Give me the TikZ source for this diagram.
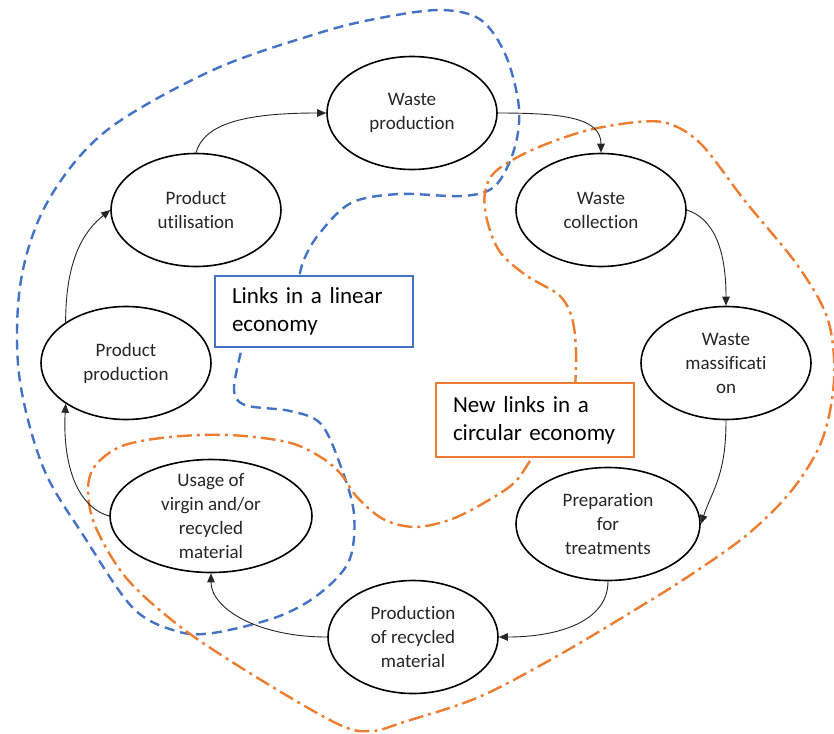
\documentclass[tikz,border=0pt]{standalone}
\usepackage{fontspec}
\setmainfont{Carlito}[RawFeature={-liga;-clig;-calt;-dlig;-rlig}]
\usetikzlibrary{shapes.geometric,arrows.meta}
\definecolor{linblue}{HTML}{4472C4}
\definecolor{circorange}{HTML}{ED7D31}
\definecolor{inktext}{HTML}{262626}

\begin{document}
\begin{tikzpicture}[x=1pt,y=-1pt,
  stage/.style={ellipse, draw=black, line width=1.6pt, fill=white,
    minimum width=170pt, minimum height=113pt, inner sep=0pt},
  stagetext/.style={align=center, font=\fontsize{19}{24}\selectfont,
    text=inktext, inner sep=0pt},
  flow/.style={draw=black!85, line width=0.9pt,
    -{Triangle[length=9pt,width=7.5pt]}},
  linearloop/.style={draw=linblue, line width=2.4pt, dash pattern=on 10pt off 6pt},
  circularloop/.style={draw=circorange, line width=2.4pt,
    dash pattern=on 15pt off 5pt on 3pt off 5pt},
  legendbox/.style={rectangle, fill=white, line width=2pt, align=left,
    font=\fontsize{23}{28}\selectfont, text=black, minimum width=198pt,
    text width=164pt, inner xsep=17pt, inner ysep=0pt},
]
\useasboundingbox (0,0) rectangle (834,733);

% linear economy loop
\draw[linearloop] plot[smooth, tension=0.55] coordinates {
  (297,290) (303,262) (319,234) (351,203) (399,194) (463,196) (495,186)
  (514,150) (519,108) (506,56) (481,20) (441,10) (380,18) (319,33)
  (213,70) (106,131) (48,201) (21,280) (19,374) (43,467) (85,538)
  (133,608) (176,631) (213,633) (277,617) (319,594) (349,561) (354,514)
  (341,467) (321,424) (290,411) (245,405) (234,388) (244,340)};

% circular economy loop
\draw[circularloop] plot[smooth, tension=0.55] coordinates {
  (575,390) (576,351) (572,318) (559,295) (527,276) (500,252) (487,220)
  (485,192) (496,171) (532,150) (585,131) (638,122) (670,124) (702,145)
  (745,201) (798,266) (828,320) (834,380) (822,440) (792,490) (748,534)
  (692,574) (638,608) (559,655) (479,697) (404,722) (372,731) (340,725)
  (266,683) (186,631) (128,580) (96,528) (88,491) (95,466) (122,446)
  (170,437) (229,435) (287,442) (319,456) (340,473) (357,497) (383,519)
  (415,527) (452,519) (489,500) (516,481) (535,452)};

% process stages
\node[stage, label={[stagetext]center:Waste\\production}] (wp) at (412,113) {};
\node[stage, label={[stagetext]center:Product\\utilisation}] (pu) at (196,210) {};
\node[stage, label={[stagetext]center:Waste\\collection}] (wc) at (601,210) {};
\node[stage, label={[stagetext]center:Waste\\massificati\\on}] (wm) at (726,363) {};
\node[stage, label={[stagetext]center:Product\\production}] (pp) at (126,363) {};
\node[stage, minimum width=202pt,
  label={[stagetext]center:Usage of\\virgin and/or\\recycled\\material}] (us) at (211,516) {};
\node[stage, minimum width=184pt,
  label={[stagetext]center:Preparation\\for\\treatments}] (pt) at (608,524) {};
\node[stage, label={[stagetext]center:Production\\of recycled\\material}] (pr) at (413,637) {};

% legend boxes
\node[legendbox, draw=linblue, minimum height=71pt] (lin) at (314,311.5)
  {Links in a linear\\economy};
\node[legendbox, draw=circorange, minimum height=74pt] (circ) at (535,420)
  {New links in a\\\mbox{circular economy}};

% flows between stages
\draw[flow] (pu.north) .. controls +(8,-28) and +(-85,0) .. (wp.west);
\draw[flow] (wp.east) .. controls +(65,0) and +(0,-35) .. (wc.north);
\draw[flow] (wc.east) .. controls +(25,8) and +(0,-60) .. (wm.north);
\draw[flow] (wm.south) .. controls +(0,55) and +(12,-35) .. (pt.east);
\draw[flow] (pt.south) .. controls +(0,40) and +(60,0) .. (pr.east);
\draw[flow] (pr.west) .. controls +(-70,0) and +(0,35) .. (us.south);
\draw[flow] (us.west) .. controls +(-35,-10) and +(-3,55) .. (pp.214);
\draw[flow] (pp.146) .. controls +(0,-65) and +(-25,20) .. (pu.west);
\end{tikzpicture}
\end{document}
